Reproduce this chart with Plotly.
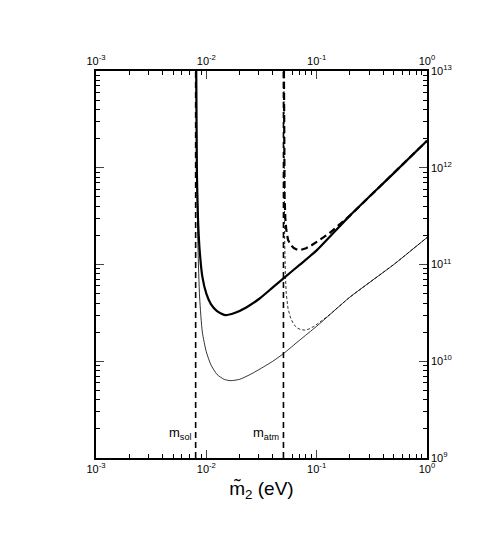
import plotly.graph_objects as go

thick_x = [0.0081, 0.0082, 0.0084, 0.0087, 0.0092, 0.010, 0.011, 0.0125, 0.0148, 0.018, 0.023, 0.03, 0.04, 0.05, 0.07, 0.1, 0.2, 0.5, 1.0]
thick_y = [1e13, 1e12, 3e11, 1.4e11, 7.5e10, 5.0e10, 3.9e10, 3.3e10, 3.0e10, 3.15e10, 3.6e10, 4.4e10, 5.8e10, 7.2e10, 9.9e10, 1.4e11, 3.2e11, 8.8e11, 1.9e12]
thin_x = [0.0081, 0.0082, 0.0084, 0.0087, 0.0092, 0.010, 0.011, 0.0125, 0.0145, 0.0165, 0.02, 0.025, 0.03, 0.04, 0.05, 0.07, 0.1, 0.2, 0.5, 1.0]
thin_y = [1e13, 1e12, 1.5e11, 4.5e10, 2e10, 1.25e10, 9.2e9, 7.3e9, 6.5e9, 6.3e9, 6.5e9, 7.3e9, 8.2e9, 1.0e10, 1.2e10, 1.65e10, 2.3e10, 4.6e10, 1.0e11, 1.9e11]
thickd_x = [0.0505, 0.0508, 0.0512, 0.052, 0.053, 0.055, 0.058, 0.062, 0.067, 0.072, 0.08, 0.09, 0.1, 0.115, 0.13, 0.2, 0.5, 1.0]
thickd_y = [1e13, 1e12, 5e11, 3e11, 2.3e11, 1.8e11, 1.6e11, 1.48e11, 1.42e11, 1.42e11, 1.47e11, 1.58e11, 1.72e11, 1.93e11, 2.1e11, 3.2e11, 8.8e11, 1.9e12]
thind_x = [0.0505, 0.0508, 0.0512, 0.052, 0.053, 0.055, 0.058, 0.062, 0.067, 0.072, 0.078, 0.085, 0.095, 0.11, 0.13, 0.16, 0.2, 0.5, 1.0]
thind_y = [1e13, 1e12, 2e11, 8e10, 5e10, 3.5e10, 2.8e10, 2.4e10, 2.2e10, 2.12e10, 2.1e10, 2.15e10, 2.3e10, 2.6e10, 3.0e10, 3.7e10, 4.6e10, 1.0e11, 1.9e11]
m_sol, m_atm = 0.008, 0.05
xtick_vals = [1e-3, 1e-2, 1e-1, 1e0]
xtick_text = ["10<sup>-3</sup>", "10<sup>-2</sup>", "10<sup>-1</sup>", "10<sup>0</sup>"]
ytick_vals = [1e9, 1e10, 1e11, 1e12, 1e13]
ytick_text = ["10<sup>9</sup>", "10<sup>10</sup>", "10<sup>11</sup>", "10<sup>12</sup>", "10<sup>13</sup>"]

fig = go.Figure()
fig.add_trace(go.Scatter(x=thin_x, y=thin_y, mode="lines", line=dict(color="black", width=0.8, shape="spline", smoothing=0.6)))
fig.add_trace(go.Scatter(x=thind_x, y=thind_y, mode="lines", line=dict(color="black", width=0.8, dash="3px,2px")))
fig.add_trace(go.Scatter(x=thickd_x, y=thickd_y, mode="lines", line=dict(color="black", width=2.2, dash="7px,4px")))
fig.add_trace(go.Scatter(x=thick_x, y=thick_y, mode="lines", line=dict(color="black", width=2.2, shape="spline", smoothing=0.6)))
for v in (m_sol, m_atm):
    fig.add_trace(go.Scatter(x=[v, v], y=[1e9, 1e13], mode="lines", line=dict(color="black", width=1.6, dash="6px,4px")))
fig.add_trace(go.Scatter(x=[1, 1], y=[1e9, 1e13], xaxis="x2", mode="lines", line=dict(width=0), hoverinfo="skip"))

minor = dict(ticks="inside", ticklen=4, tickcolor="black", showgrid=False, dtick="D1")
axcommon = dict(type="log", range=[-3, 0], tickvals=xtick_vals, ticktext=xtick_text,
                ticks="inside", ticklen=8, tickwidth=1.2, showgrid=False, zeroline=False,
                showline=True, linecolor="black", linewidth=1.5, tickfont=dict(size=11, color="black"),
                minor=minor)
fig.update_layout(
    width=491, height=545, margin=dict(l=88, r=72, t=63, b=95),
    plot_bgcolor="white", paper_bgcolor="white", showlegend=False,
    font=dict(family="Liberation Sans, Arial, sans-serif", color="black"),
    xaxis=dict(**axcommon, title=dict(text="m̃<sub>2</sub> (eV)", font=dict(size=19), standoff=8)),
    xaxis2=dict(**axcommon, overlaying="x", side="top"),
    yaxis=dict(type="log", range=[9, 13], side="right", tickvals=ytick_vals, ticktext=ytick_text,
               ticks="inside", ticklen=8, tickwidth=1.2, showgrid=False, zeroline=False,
               showline=True, linecolor="black", linewidth=1.5, mirror="ticks",
               tickfont=dict(size=11, color="black"), minor=minor),
)
fig.add_annotation(x=-2.12, y=9.25, xref="x", yref="y", text="m<sub>sol</sub>", showarrow=False, xanchor="right", font=dict(size=13))
fig.add_annotation(x=-1.32, y=9.25, xref="x", yref="y", text="m<sub>atm</sub>", showarrow=False, xanchor="right", font=dict(size=13))
fig.write_html("out.html")
